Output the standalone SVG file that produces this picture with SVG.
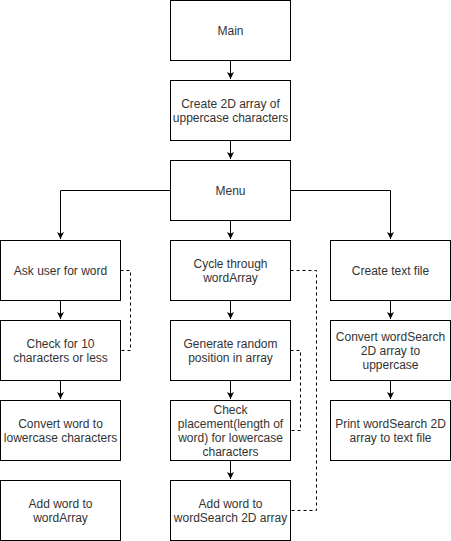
<svg xmlns="http://www.w3.org/2000/svg" width="451" height="541" viewBox="0 0 451 541">
<style>
.box{fill:#fff;stroke:#000;stroke-width:1}
.t{font-family:"Liberation Sans",Arial,sans-serif;font-size:12px;fill:#333;text-anchor:middle}
.c{fill:none;stroke:#000;stroke-width:1}
.d{fill:none;stroke:#000;stroke-width:1;stroke-dasharray:3 3}
</style>
<defs>
<marker id="ah" markerWidth="8" markerHeight="8" refX="7" refY="4" orient="auto" markerUnits="userSpaceOnUse">
<path d="M0,0.5 L7,4 L0,7.5 L1.75,4 Z" fill="#000"/>
</marker>
</defs>
<rect width="451" height="541" fill="#fff"/>
<g id="connectors">
<path class="c" d="M230.5,60.5 V79" marker-end="url(#ah)"/>
<path class="c" d="M230.5,140.5 V159" marker-end="url(#ah)"/>
<path class="c" d="M230.5,220.5 V239" marker-end="url(#ah)"/>
<path class="c" d="M170.5,190.5 H60.5 V239" marker-end="url(#ah)"/>
<path class="c" d="M290.5,190.5 H390.5 V239" marker-end="url(#ah)"/>
<path class="c" d="M60.5,300.5 V319" marker-end="url(#ah)"/>
<path class="c" d="M60.5,380.5 V399" marker-end="url(#ah)"/>
<path class="c" d="M230.5,300.5 V319" marker-end="url(#ah)"/>
<path class="c" d="M230.5,380.5 V399" marker-end="url(#ah)"/>
<path class="c" d="M230.5,460.5 V479" marker-end="url(#ah)"/>
<path class="c" d="M390.5,300.5 V319" marker-end="url(#ah)"/>
<path class="c" d="M390.5,380.5 V399" marker-end="url(#ah)"/>
<path class="d" d="M120.5,270.5 H130.5 V350.5 H120.5"/>
<path class="d" d="M290.5,270.5 H316.5 V510.5 H290.5"/>
<path class="d" d="M290.5,350.5 H300.5 V430.5 H290.5"/>
</g>
<g id="main"><rect class="box" x="170.5" y="0.5" width="120" height="60"/><text class="t" x="230.5" y="35">Main</text></g>
<g id="create2d"><rect class="box" x="170.5" y="80.5" width="120" height="60"/><text class="t" x="230.5" y="108">Create 2D array of</text><text class="t" x="230.5" y="122">uppercase characters</text></g>
<g id="menu"><rect class="box" x="170.5" y="160.5" width="120" height="60"/><text class="t" x="230.5" y="195">Menu</text></g>
<g id="askuser"><rect class="box" x="0.5" y="240.5" width="120" height="60"/><text class="t" x="60.5" y="275">Ask user for word</text></g>
<g id="check10"><rect class="box" x="0.5" y="320.5" width="120" height="60"/><text class="t" x="60.5" y="348">Check for 10</text><text class="t" x="60.5" y="362">characters or less</text></g>
<g id="convertlower"><rect class="box" x="0.5" y="400.5" width="120" height="60"/><text class="t" x="60.5" y="428">Convert word to</text><text class="t" x="60.5" y="442">lowercase characters</text></g>
<g id="addwordarray"><rect class="box" x="0.5" y="480.5" width="120" height="60"/><text class="t" x="60.5" y="508">Add word to</text><text class="t" x="60.5" y="522">wordArray</text></g>
<g id="cycle"><rect class="box" x="170.5" y="240.5" width="120" height="60"/><text class="t" x="230.5" y="268">Cycle through</text><text class="t" x="230.5" y="282">wordArray</text></g>
<g id="generate"><rect class="box" x="170.5" y="320.5" width="120" height="60"/><text class="t" x="230.5" y="348">Generate random</text><text class="t" x="230.5" y="362">position in array</text></g>
<g id="checkplacement"><rect class="box" x="170.5" y="400.5" width="120" height="60"/><text class="t" x="230.5" y="414">Check</text><text class="t" x="230.5" y="428">placement(length of</text><text class="t" x="230.5" y="442">word) for lowercase</text><text class="t" x="230.5" y="456">characters</text></g>
<g id="addwordsearch"><rect class="box" x="170.5" y="480.5" width="120" height="60"/><text class="t" x="230.5" y="508">Add word to</text><text class="t" x="230.5" y="522">wordSearch 2D array</text></g>
<g id="createtext"><rect class="box" x="330.5" y="240.5" width="120" height="60"/><text class="t" x="390.5" y="275">Create text file</text></g>
<g id="convertupper"><rect class="box" x="330.5" y="320.5" width="120" height="60"/><text class="t" x="390.5" y="341">Convert wordSearch</text><text class="t" x="390.5" y="355">2D array to</text><text class="t" x="390.5" y="369">uppercase</text></g>
<g id="print"><rect class="box" x="330.5" y="400.5" width="120" height="60"/><text class="t" x="390.5" y="428">Print wordSearch 2D</text><text class="t" x="390.5" y="442">array to text file</text></g>
</svg>
